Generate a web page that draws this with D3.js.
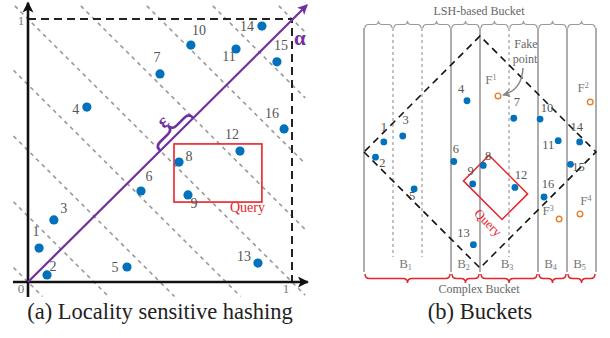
<!DOCTYPE html>
<html>
<head>
<meta charset="utf-8">
<script src="https://cdn.jsdelivr.net/npm/d3@7"></script>
<style>
  html, body { margin: 0; padding: 0; background: #fff; }
  svg { display: block; font-family: "Liberation Serif", "DejaVu Serif", serif; }
</style>
</head>
<body>
<div id="chart"></div>
<script>
// data points in the unit square (left panel), the right panel rotates them
var pointIds = ["1", "2", "3", "4", "5", "6", "7", "8", "9", "10", "11", "12", "13", "14", "15", "16"];
var pointX = [0.042, 0.072, 0.098, 0.223, 0.375, 0.428, 0.500, 0.572, 0.606, 0.617, 0.788, 0.803, 0.871, 0.886, 0.943, 0.970];
var pointY = [0.129, 0.027, 0.236, 0.665, 0.057, 0.346, 0.791, 0.456, 0.331, 0.901, 0.886, 0.498, 0.072, 0.973, 0.837, 0.582];

// fake points only shown in the buckets panel
var fakeIds = ["1", "2", "3", "4"];
var fakeX = [0.336, 0.760, 1.130, 1.198];
var fakeY = [0.819, 1.190, 0.552, 0.664];

// query range
var queryX = [0.553, 0.886];
var queryY = [0.304, 0.525];

// hash values (x + y) of the LSH lines / buckets
var hashLevels = [0, 0.25, 0.5, 0.75, 1, 1.25, 1.5, 1.75, 2];
var bucketEdges = [0, 0.75, 1, 1.5, 1.75, 2];
var bucketNames = ["1", "2", "3", "4", "5"];
var epsRange = [1, 1.25];
var tickLabels = ["0", "1"];

// label placement (pixels from the dot)
var leftOff = [[-3,-17],[6,-8],[10,-11],[-11,2],[-12,0],[8,-15],[-3,-16],[10,-6],[6,9],[8,-15],[-7,8],[-8,-17],[-14,-7],[-15,0],[4,-16],[-12,-15]];
var rightOff = [[0,-15],[7,6],[3,-16],[-6,-12],[-2,7],[2,-13],[3,-16],[5,-9],[-2,-13],[7,-11],[-10,4],[6,-12],[-10,-12],[-3,-15],[8,3],[4,-13]];
var fakeOff = [[-7,-16],[-7,-14],[-11,-8],[6,-13]];

var blue = "#0072BD", purple = "#7030A0", red = "#E8232A", orange = "#E5822E";
var gray = "#9a9a9a", textGray = "#555";

var svg = d3.select("#chart").append("svg")
  .attr("width", 610)
  .attr("height", 338);

var defs = svg.append("defs");
function marker(id, color, len, wid) {
  defs.append("marker")
    .attr("id", id)
    .attr("markerUnits", "userSpaceOnUse")
    .attr("viewBox", "0 0 10 10")
    .attr("refX", 9).attr("refY", 5)
    .attr("markerWidth", len).attr("markerHeight", wid)
    .attr("orient", "auto")
    .append("path")
    .attr("d", "M0,0 L10,5 L0,10 L2.5,5 z")
    .attr("fill", color);
}
marker("arrBlack", "#111", 12, 11);
marker("arrPurple", purple, 12, 10);
marker("arrGray", "#888", 9, 8);

// curly brace along local x, bulging to negative y
function bracePath(w, d) {
  var h = d / 2;
  return "M0,0 Q0," + (-h) + " " + h + "," + (-h) +
    " L" + (w / 2 - h) + "," + (-h) +
    " Q" + (w / 2) + "," + (-h) + " " + (w / 2) + "," + (-d) +
    " Q" + (w / 2) + "," + (-h) + " " + (w / 2 + h) + "," + (-h) +
    " L" + (w - h) + "," + (-h) +
    " Q" + w + "," + (-h) + " " + w + ",0";
}

var points = pointIds.map(function(id, i) { return {id: id, x: pointX[i], y: pointY[i], i: i}; });

// ---------------- (a) left panel ----------------
var xL = d3.scaleLinear().domain([0, 1]).range([28, 292]);
var yL = d3.scaleLinear().domain([0, 1]).range([282, 19]);
var left = svg.append("g");

// LSH lines x + y = c, clipped a bit outside the square
var lo = -0.055, hi = 1.05;
left.selectAll(".hash")
  .data(hashLevels)
  .enter()
  .append("line")
  .attr("class", "hash")
  .attr("x1", function(c) { return xL(Math.max(lo, c - hi)); })
  .attr("y1", function(c) { return yL(c - Math.max(lo, c - hi)); })
  .attr("x2", function(c) { return xL(Math.min(hi, c - lo)); })
  .attr("y2", function(c) { return yL(c - Math.min(hi, c - lo)); })
  .attr("stroke", gray)
  .attr("stroke-width", 1.6)
  .attr("stroke-dasharray", "4,4");

// dashed border of the square
left.append("path")
  .attr("d", "M" + xL(0) + "," + yL(1) + " H" + xL(1) + " V" + yL(0))
  .attr("fill", "none")
  .attr("stroke", "#222")
  .attr("stroke-width", 2)
  .attr("stroke-dasharray", "8,5");

// axes
left.append("line")
  .attr("x1", xL(-0.057)).attr("y1", yL(0))
  .attr("x2", xL(1.06)).attr("y2", yL(0))
  .attr("stroke", "#111").attr("stroke-width", 2.6)
  .attr("marker-end", "url(#arrBlack)");
left.append("line")
  .attr("x1", xL(0)).attr("y1", yL(-0.057))
  .attr("x2", xL(0)).attr("y2", yL(1.062))
  .attr("stroke", "#111").attr("stroke-width", 2.6)
  .attr("marker-end", "url(#arrBlack)");

left.append("text").attr("x", xL(0) - 7).attr("y", yL(0) + 11)
  .attr("text-anchor", "middle").attr("font-size", 13).attr("fill", "#777").text(tickLabels[0]);
left.append("text").attr("x", xL(0) - 7).attr("y", yL(1) + 6)
  .attr("text-anchor", "middle").attr("font-size", 13).attr("fill", "#777").text(tickLabels[1]);
left.append("text").attr("x", xL(1) - 6).attr("y", yL(0) + 11)
  .attr("text-anchor", "middle").attr("font-size", 13).attr("fill", "#777").text(tickLabels[1]);

// alpha direction
left.append("line")
  .attr("x1", xL(0)).attr("y1", yL(0))
  .attr("x2", xL(1.057)).attr("y2", yL(1.053))
  .attr("stroke", purple).attr("stroke-width", 2.2)
  .attr("marker-end", "url(#arrPurple)");
left.append("text")
  .attr("x", 294).attr("y", 45)
  .attr("font-size", 21).attr("font-weight", "bold")
  .attr("fill", purple).text("α");

// epsilon brace between two LSH lines along alpha
var e0 = [xL(epsRange[0] / 2), yL(epsRange[0] / 2)];
var e1 = [xL(epsRange[1] / 2), yL(epsRange[1] / 2)];
var eLen = Math.hypot(e1[0] - e0[0], e1[1] - e0[1]);
var eAng = Math.atan2(e1[1] - e0[1], e1[0] - e0[0]) * 180 / Math.PI;
var eg = left.append("g").attr("transform", "translate(" + e0[0] + "," + e0[1] + ") rotate(" + eAng + ")");
eg.append("path")
  .attr("d", bracePath(eLen, 12))
  .attr("fill", "none").attr("stroke", purple).attr("stroke-width", 2.6);
eg.append("text")
  .attr("x", eLen / 2 - 1).attr("y", -19)
  .attr("text-anchor", "middle").attr("dominant-baseline", "central")
  .attr("font-size", 20).attr("font-weight", "bold")
  .attr("fill", purple).text("ε");

// query box
left.append("rect")
  .attr("x", xL(queryX[0])).attr("y", yL(queryY[1]))
  .attr("width", xL(queryX[1]) - xL(queryX[0]))
  .attr("height", yL(queryY[0]) - yL(queryY[1]))
  .attr("fill", "none").attr("stroke", red).attr("stroke-width", 1.6);
left.append("text")
  .attr("x", xL(queryX[1]) + 3).attr("y", yL(queryY[0]) + 9.5)
  .attr("text-anchor", "end").attr("font-size", 14)
  .attr("fill", red).text("Query");

// points
left.selectAll(".dotL")
  .data(points)
  .enter()
  .append("circle")
  .attr("class", "dotL")
  .attr("cx", function(d) { return xL(d.x); })
  .attr("cy", function(d) { return yL(d.y); })
  .attr("r", 4.6)
  .attr("fill", blue);
left.selectAll(".labL")
  .data(points)
  .enter()
  .append("text")
  .attr("class", "labL")
  .attr("x", function(d) { return xL(d.x) + leftOff[d.i][0]; })
  .attr("y", function(d) { return yL(d.y) + leftOff[d.i][1]; })
  .attr("text-anchor", "middle")
  .attr("dominant-baseline", "central")
  .attr("font-size", 14)
  .attr("fill", textGray)
  .text(function(d) { return d.id; });

svg.append("text")
  .attr("x", 160).attr("y", 319)
  .attr("text-anchor", "middle")
  .attr("font-size", 22.5)
  .attr("fill", "#222")
  .text("(a) Locality sensitive hashing");

// ---------------- (b) right panel ----------------
// horizontal = x + y (along alpha), vertical = y - x
var hR = d3.scaleLinear().domain([0, 2]).range([364, 596]);
var vR = d3.scaleLinear().domain([-1, 1]).range([268, 36]);
function px(x, y) { return hR(x + y); }
function py(x, y) { return vR(y - x); }
var right = svg.append("g");

// bucket separators
right.selectAll(".sep")
  .data(hashLevels)
  .enter()
  .append("line")
  .attr("class", "sep")
  .attr("x1", function(c) { return hR(c); })
  .attr("x2", function(c) { return hR(c); })
  .attr("y1", 28)
  .attr("y2", function(c) { return bucketEdges.indexOf(c) >= 0 ? 272 : 257; })
  .attr("stroke", function(c) { return bucketEdges.indexOf(c) >= 0 ? "#999" : "#aaa"; })
  .attr("stroke-width", function(c) { return bucketEdges.indexOf(c) >= 0 ? 1.6 : 1.4; })
  .attr("stroke-dasharray", function(c) { return bucketEdges.indexOf(c) >= 0 ? null : "3,3"; });

// LSH-based bucket braces
right.selectAll(".lshBrace")
  .data(hashLevels.slice(0, -1))
  .enter()
  .append("path")
  .attr("class", "lshBrace")
  .attr("transform", function(c) { return "translate(" + (hR(c) + 1) + ",28)"; })
  .attr("d", function(c) { return bracePath(hR(c + 0.25) - hR(c) - 2, 7); })
  .attr("fill", "none").attr("stroke", "#999").attr("stroke-width", 1.2);
right.append("text")
  .attr("x", 479).attr("y", 15)
  .attr("text-anchor", "middle").attr("font-size", 12)
  .attr("fill", "#666").text("LSH-based Bucket");

// complex bucket braces
var buckets = bucketNames.map(function(n, i) { return {name: n, a: bucketEdges[i], b: bucketEdges[i + 1]}; });
right.selectAll(".cBrace")
  .data(buckets)
  .enter()
  .append("path")
  .attr("class", "cBrace")
  .attr("transform", function(d) { return "translate(" + (hR(d.a) + 1) + ",274) scale(1,-1)"; })
  .attr("d", function(d) { return bracePath(hR(d.b) - hR(d.a) - 2, 9); })
  .attr("fill", "none").attr("stroke", red).attr("stroke-width", 1.5);
var bl = right.selectAll(".bLab")
  .data(buckets)
  .enter()
  .append("text")
  .attr("class", "bLab")
  .attr("x", function(d) { return (hR(d.a) + hR(d.b)) / 2 - 2; })
  .attr("y", 268)
  .attr("text-anchor", "middle")
  .attr("font-size", 13)
  .attr("fill", "#777");
bl.append("tspan").text("B");
bl.append("tspan").attr("font-size", 8).attr("dy", 2).text(function(d) { return d.name; });
right.append("text")
  .attr("x", 479).attr("y", 293)
  .attr("text-anchor", "middle").attr("font-size", 12)
  .attr("fill", "#666").text("Complex Bucket");

// rotated unit square
var corners = [[0, 0], [1, 0], [1, 1], [0, 1]];
right.append("path")
  .attr("d", d3.line()(corners.map(function(c) { return [px(c[0], c[1]), py(c[0], c[1])]; })) + "Z")
  .attr("fill", "none").attr("stroke", "#111")
  .attr("stroke-width", 1.6).attr("stroke-dasharray", "7,5");

// rotated query box
var qc = [[queryX[0], queryY[0]], [queryX[1], queryY[0]], [queryX[1], queryY[1]], [queryX[0], queryY[1]]];
right.append("path")
  .attr("d", d3.line()(qc.map(function(c) { return [px(c[0], c[1]), py(c[0], c[1])]; })) + "Z")
  .attr("fill", "none").attr("stroke", red).attr("stroke-width", 1.5);
var q0 = [px(queryX[0], queryY[0]), py(queryX[0], queryY[0])];
right.append("text")
  .attr("transform", "translate(" + q0[0] + "," + q0[1] + ") rotate(45)")
  .attr("x", 47).attr("y", 12)
  .attr("text-anchor", "middle").attr("dominant-baseline", "central")
  .attr("font-size", 13).attr("fill", red).text("Query");

// points
right.selectAll(".dotR")
  .data(points)
  .enter()
  .append("circle")
  .attr("class", "dotR")
  .attr("cx", function(d) { return px(d.x, d.y); })
  .attr("cy", function(d) { return py(d.x, d.y); })
  .attr("r", 3.4)
  .attr("fill", blue);
right.selectAll(".labR")
  .data(points)
  .enter()
  .append("text")
  .attr("class", "labR")
  .attr("x", function(d) { return px(d.x, d.y) + rightOff[d.i][0]; })
  .attr("y", function(d) { return py(d.x, d.y) + rightOff[d.i][1]; })
  .attr("text-anchor", "middle")
  .attr("dominant-baseline", "central")
  .attr("font-size", 12.5)
  .attr("fill", textGray)
  .text(function(d) { return d.id; });

// fake points
var fakes = fakeIds.map(function(id, i) { return {id: id, x: fakeX[i], y: fakeY[i], i: i}; });
right.selectAll(".fake")
  .data(fakes)
  .enter()
  .append("circle")
  .attr("class", "fake")
  .attr("cx", function(d) { return px(d.x, d.y); })
  .attr("cy", function(d) { return py(d.x, d.y); })
  .attr("r", 2.8)
  .attr("fill", "#fff").attr("stroke", orange).attr("stroke-width", 1.4);
var fl = right.selectAll(".fLab")
  .data(fakes)
  .enter()
  .append("text")
  .attr("class", "fLab")
  .attr("x", function(d) { return px(d.x, d.y) + fakeOff[d.i][0]; })
  .attr("y", function(d) { return py(d.x, d.y) + fakeOff[d.i][1] + 4; })
  .attr("text-anchor", "middle")
  .attr("font-size", 13)
  .attr("fill", "#777");
fl.append("tspan").text("F");
fl.append("tspan").attr("font-size", 8).attr("dy", -4).text(function(d) { return d.id; });

// "Fake point" note with curved arrow
right.append("text").attr("x", 526).attr("y", 48)
  .attr("text-anchor", "middle").attr("font-size", 12).attr("fill", "#666").text("Fake");
right.append("text").attr("x", 525).attr("y", 63)
  .attr("text-anchor", "middle").attr("font-size", 12).attr("fill", "#666").text("point");
var f1 = [px(fakeX[0], fakeY[0]), py(fakeX[0], fakeY[0])];
right.append("path")
  .attr("d", "M523,68 Q522,90 " + (f1[0] + 5) + "," + (f1[1] - 1))
  .attr("fill", "none").attr("stroke", "#888").attr("stroke-width", 1.5)
  .attr("marker-end", "url(#arrGray)");

svg.append("text")
  .attr("x", 480).attr("y", 319)
  .attr("text-anchor", "middle")
  .attr("font-size", 22.5)
  .attr("fill", "#222")
  .text("(b) Buckets");
</script>
</body>
</html>
